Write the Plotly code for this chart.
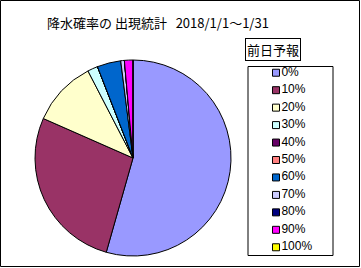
import plotly.graph_objects as go

# ---- data ----
labels = ["0%", "10%", "20%", "30%", "40%", "50%", "60%", "70%", "80%", "90%", "100%"]
values = [54.4, 27.2, 10.8, 1.7, 0, 0, 3.9, 0.6, 0, 1.4, 0]
colors = ["#9999FF", "#993366", "#FFFFCC", "#CCFFFF", "#660066", "#FF8080",
          "#0066CC", "#CCCCFF", "#000080", "#FF00FF", "#FFFF00"]
title_text = "降水確率の\u00a0出現統計\u00a0\u00a0\u00a02018/1/1～1/31"
legend_title = "前日予報"

W, H = 361, 268
JP = "Noto Sans CJK JP"

fig = go.Figure()

# pie
cx, cy, r = 133, 158, 98
fig.add_trace(go.Pie(
    labels=labels, values=values, sort=False, direction="clockwise", rotation=0,
    marker=dict(colors=colors, line=dict(color="black", width=1)),
    textinfo="none", hoverinfo="label+percent",
    domain=dict(x=[(cx - r) / W, (cx + r) / W], y=[1 - (cy + r) / H, 1 - (cy - r) / H]),
    showlegend=False,
))

# legend drawn from the same data arrays
idx = list(range(len(labels)))
fig.add_trace(go.Scatter(
    x=[0] * len(labels), y=idx, mode="markers+text", text=labels,
    textposition="middle right",
    marker=dict(symbol="square", size=7, color=colors, line=dict(color="black", width=1)),
    textfont=dict(family="Liberation Sans, Arial", size=12, color="black"),
    showlegend=False, hoverinfo="skip", cliponaxis=False,
))

lx0, lx1, ly0, ly1 = 248, 333, 66.5, 255.5
fig.update_xaxes(visible=False, fixedrange=True, domain=[lx0 / W, lx1 / W], range=[-28, 57])
fig.update_yaxes(visible=False, fixedrange=True, domain=[1 - 256 / H, 1 - 64 / H],
                 range=[len(labels) - 0.5, -0.5])

shapes = [
    # outer chart border
    dict(type="rect", xref="paper", yref="paper", x0=0.5 / W, x1=1 - 1.5 / W,
         y0=1.5 / H, y1=1 - 0.5 / H, line=dict(color="black", width=1)),
    # legend box
    dict(type="rect", xref="paper", yref="paper", x0=lx0 / W, x1=lx1 / W,
         y0=1 - ly1 / H, y1=1 - ly0 / H, line=dict(color="black", width=1), layer="below"),
]

annotations = [
    dict(text=title_text, xref="paper", yref="paper", x=45 / W, y=1 - 22 / H,
         xanchor="left", yanchor="middle", showarrow=False,
         font=dict(family=JP, size=13, color="black")),
    dict(text=legend_title, xref="paper", yref="paper", x=272.5 / W, y=1 - 49.5 / H,
         xanchor="center", yanchor="middle", showarrow=False,
         font=dict(family=JP, size=13, color="black"),
         bordercolor="black", borderwidth=1, borderpad=1, bgcolor="white"),
]

fig.update_layout(
    width=W, height=H, margin=dict(l=0, r=0, t=0, b=0),
    paper_bgcolor="white", plot_bgcolor="white",
    shapes=shapes, annotations=annotations, showlegend=False,
)

fig.write_html("out.html")
